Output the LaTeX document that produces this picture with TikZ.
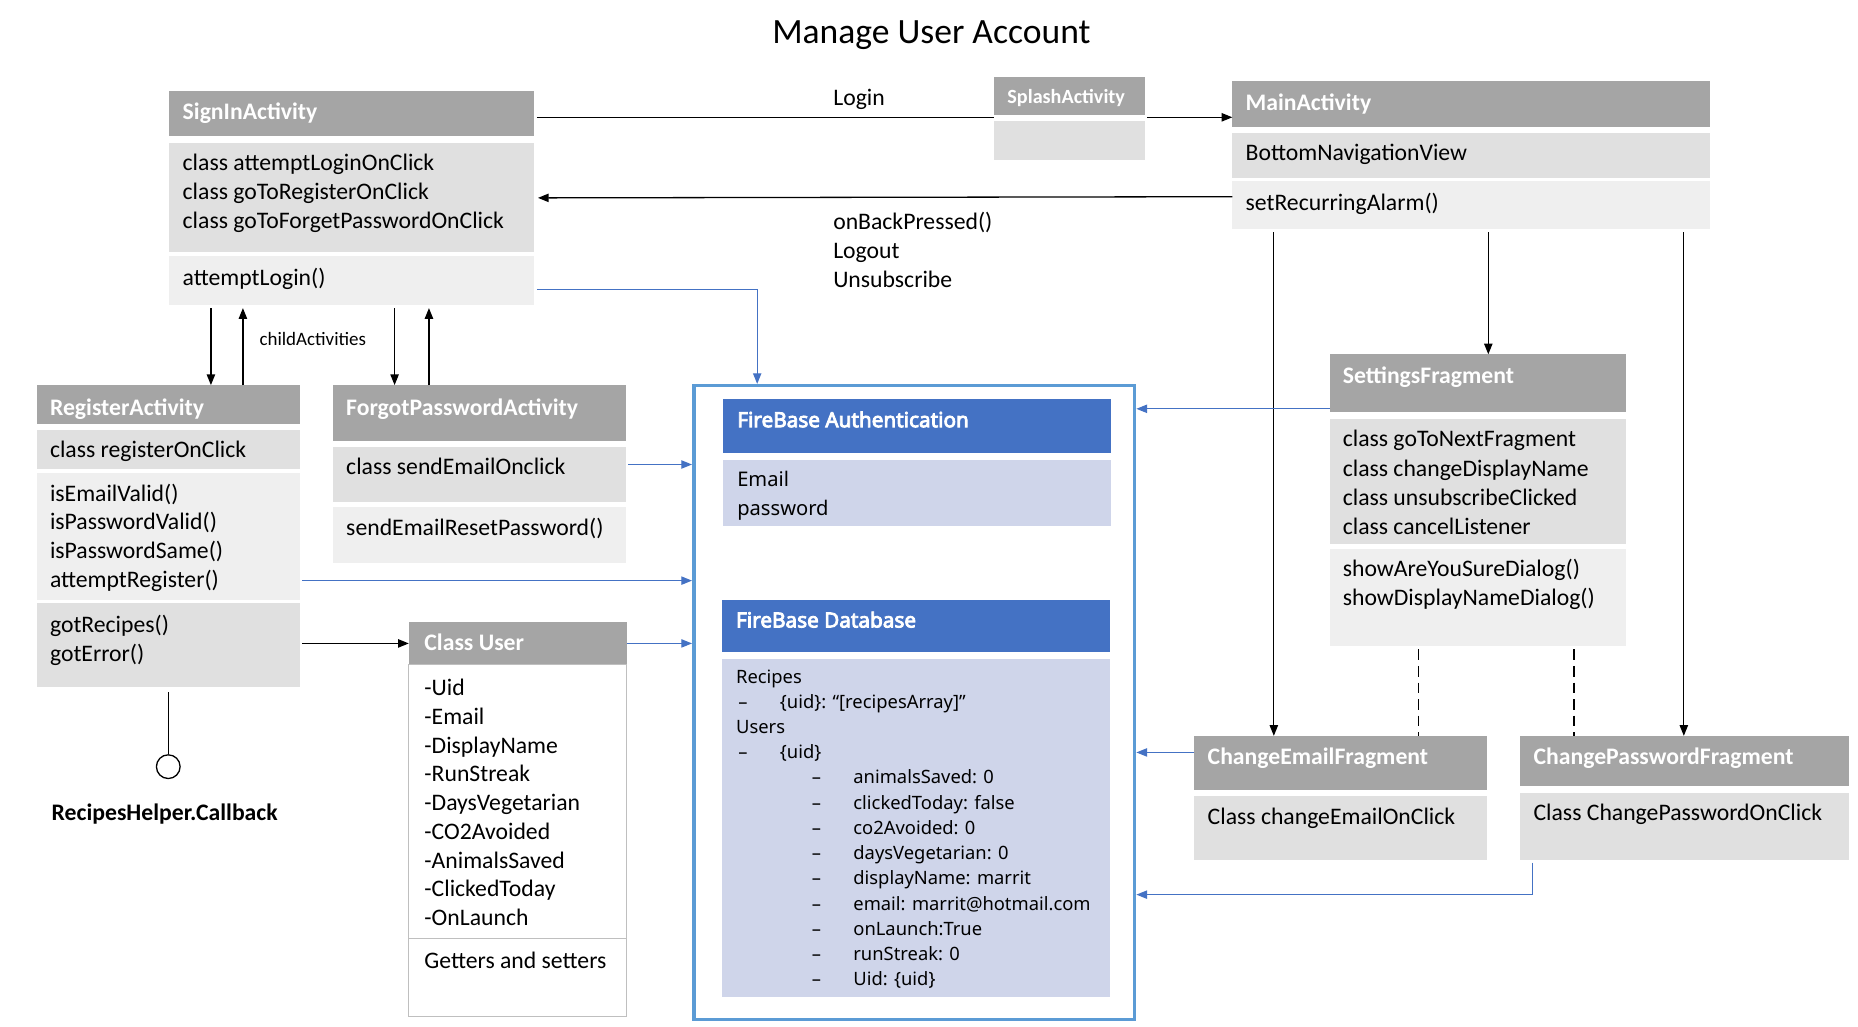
\documentclass[tikz,border=0pt]{standalone}
\usepackage{fontspec}
\setmainfont{Carlito}
\newfontfamily\fbfont{Noto Sans}
\newfontfamily\fbbold{Noto Sans}[FakeBold=4]
\usetikzlibrary{arrows.meta}

\definecolor{hgray}{HTML}{A5A5A5}
\definecolor{lgray}{HTML}{E0E0E0}
\definecolor{pgray}{HTML}{EFEFEF}
\definecolor{ugray}{HTML}{BFBFBF}
\definecolor{fbblue}{HTML}{4472C4}
\definecolor{fbpale}{HTML}{CFD5EA}
\definecolor{fbframe}{HTML}{5B9BD5}

\begin{document}
\begin{tikzpicture}[x=1pt,y=-1pt,
    box/.style={anchor=north west,inner sep=0pt,outer sep=0pt},
    txt/.style={anchor=north west,inner sep=0pt,align=left,font=\fontsize{20}{24.4}\selectfont},
    head/.style={txt,text=white,font=\fontsize{20}{24.4}\selectfont\bfseries},
    fbhead/.style={txt,text=white,font=\fbbold\fontsize{17.5}{20}\selectfont},
    dbt/.style={txt,font=\fbfont\fontsize{15.5}{18}\selectfont,text height=11.5pt,text depth=3.5pt},
    line/.style={line width=1.1pt},
    arr/.style={line,-{Triangle[length=9pt,width=7pt]}},
    barr/.style={arr,draw=fbblue,line width=1pt}]
  \useasboundingbox (0,0) rectangle (1568,866.7);
  \node[font=\fontsize{30}{36}\selectfont] (title) at (786,30) {Manage User Account};

  % SignInActivity
  \node[box,fill=hgray,minimum width=308,minimum height=38] (sinh) at (143,77) {};
  \node[box,fill=lgray,minimum width=308,minimum height=92] (sin2) at (143,121) {};
  \node[box,fill=pgray,minimum width=308,minimum height=41] (sin3) at (143,216) {};
  \node[head] (sinht) at (154,87) {SignInActivity};
  \node[txt] (sin2t) at (154,130) {class attemptLoginOnClick\\class goToRegisterOnClick\\class goToForgetPasswordOnClick};
  \node[txt] (sin3t) at (154,226) {attemptLogin()};

  % SplashActivity
  \node[box,fill=hgray,minimum width=127,minimum height=32] (sph) at (839,65) {};
  \node[box,fill=lgray,minimum width=127,minimum height=33] (spb) at (839,102) {};
  \node[head,font=\fontsize{17}{20}\selectfont\bfseries] (spht) at (850,75) {SplashActivity};

  % MainActivity
  \node[box,fill=hgray,minimum width=403,minimum height=39] (mah) at (1040,68) {};
  \node[box,fill=lgray,minimum width=403,minimum height=38] (ma2) at (1040,112) {};
  \node[box,fill=pgray,minimum width=403,minimum height=40] (ma3) at (1040,153) {};
  \node[head] (maht) at (1051,79) {MainActivity};
  \node[txt] (ma2t) at (1051,121) {BottomNavigationView};
  \node[txt] (ma3t) at (1051,163) {setRecurringAlarm()};

  % RegisterActivity
  \node[box,fill=hgray,minimum width=222,minimum height=33] (reh) at (31,325) {};
  \node[box,fill=lgray,minimum width=222,minimum height=33] (re2) at (31,363) {};
  \node[box,fill=pgray,minimum width=222,minimum height=107] (re3) at (31,399) {};
  \node[box,fill=lgray,minimum width=222,minimum height=71] (re4) at (31,509) {};
  \node[head] (reht) at (42,336) {RegisterActivity};
  \node[txt] (re2t) at (42,372) {class registerOnClick};
  \node[txt] (re3t) at (42,408) {isEmailValid()\\isPasswordValid()\\isPasswordSame()\\attemptRegister()};
  \node[txt] (re4t) at (42,519) {gotRecipes()\\gotError()};
  \node[circle,draw,line width=1.1pt,minimum size=20pt,inner sep=0pt] (cb) at (142,647) {};
  \node[font=\fontsize{20}{24}\selectfont\bfseries] (cbt) at (139,687) {RecipesHelper.Callback};

  % ForgotPasswordActivity
  \node[box,fill=hgray,minimum width=247,minimum height=47] (foh) at (281,325) {};
  \node[box,fill=lgray,minimum width=247,minimum height=47] (fo2) at (281,377) {};
  \node[box,fill=pgray,minimum width=247,minimum height=47] (fo3) at (281,428) {};
  \node[head] (foht) at (292,336) {ForgotPasswordActivity};
  \node[txt] (fo2t) at (292,386) {class sendEmailOnclick};
  \node[txt] (fo3t) at (292,437) {sendEmailResetPassword()};

  % Class User
  \node[box,fill=hgray,minimum width=184,minimum height=36] (ush) at (345,525) {};
  \node[box,draw=ugray,line width=1pt,minimum width=184,minimum height=231] (usb) at (345,561) {};
  \node[box,draw=ugray,line width=1pt,minimum width=184,minimum height=66] (usm) at (345,792) {};
  \node[head] (usht) at (358,535) {Class User};
  \node[txt,font=\fontsize{20}{24.25}\selectfont] (usbt) at (358,573) {-Uid\\-Email\\-DisplayName\\-RunStreak\\-DaysVegetarian\\-CO2Avoided\\-AnimalsSaved\\-ClickedToday\\-OnLaunch};
  \node[txt] (usmt) at (358,803) {Getters and setters};

  % FireBase
  \node[box,draw=fbframe,line width=3pt,outer sep=1.5pt,minimum width=372,minimum height=535] (fb) at (584,324) {};
  \node[box,fill=fbblue,minimum width=328,minimum height=45] (fah) at (610,337) {};
  \node[box,fill=fbpale,minimum width=328,minimum height=56] (fab) at (610,388) {};
  \node[box,fill=fbblue,minimum width=328,minimum height=44] (fdh) at (609,506) {};
  \node[box,fill=fbpale,minimum width=328,minimum height=285] (fdb) at (609,556) {};
  \node[fbhead] (faht) at (622,347) {FireBase Authentication};
  \node[txt,font=\fbfont\fontsize{17}{24}\selectfont] (fabt) at (622,397.5) {Email\\password};
  \node[fbhead] (fdht) at (621,516) {FireBase Database};
  \node[dbt] (rec) at (621,565.5) {Recipes};
  \node[dbt] (rd) at (623,586.5) {–};
  \node[dbt] (ruid) at (658,586.5) {\{uid\}: “[recipesArray]”};
  \node[dbt] (users) at (621,607.5) {Users};
  \node[dbt] (ud) at (623,628.5) {–};
  \node[dbt] (uuid) at (658,628.5) {\{uid\}};
  \foreach \t [count=\i] in {animalsSaved: 0, clickedToday: false, co2Avoided: 0, daysVegetarian: 0, displayName: marrit, email: marrit@hotmail.com, onLaunch:True, runStreak: 0, Uid: \{uid\}} {
    \node[dbt] (fd\i) at (685,628.5+21.3*\i) {–};
    \node[dbt] (ft\i) at (720,628.5+21.3*\i) {\t};
  }

  % SettingsFragment
  \node[box,fill=hgray,minimum width=250,minimum height=49] (seh) at (1122,299) {};
  \node[box,fill=lgray,minimum width=250,minimum height=105] (se2) at (1122,354) {};
  \node[box,fill=pgray,minimum width=250,minimum height=82] (se3) at (1122,463) {};
  \node[head] (seht) at (1133,309) {SettingsFragment};
  \node[txt,font=\fontsize{20}{24.67}\selectfont] (se2t) at (1133,363) {class goToNextFragment\\class changeDisplayName\\class unsubscribeClicked\\class cancelListener};
  \node[txt] (se3t) at (1133,472) {showAreYouSureDialog()\\showDisplayNameDialog()};

  % ChangeEmailFragment, ChangePasswordFragment
  \node[box,fill=hgray,minimum width=247,minimum height=46] (ceh) at (1008,621) {};
  \node[box,fill=lgray,minimum width=247,minimum height=54] (ceb) at (1008,672) {};
  \node[head] (ceht) at (1019,631) {ChangeEmailFragment};
  \node[txt] (cebt) at (1019,682) {Class changeEmailOnClick};
  \node[box,fill=hgray,minimum width=277,minimum height=42] (cph) at (1283,621) {};
  \node[box,fill=lgray,minimum width=277,minimum height=57] (cpb) at (1283,669) {};
  \node[head] (cpht) at (1294,631) {ChangePasswordFragment};
  \node[txt] (cpbt) at (1294,678) {Class ChangePasswordOnClick};

  % connectors
  \draw[line,shorten <=2pt] (sinh.east |- 0,99) -- (sph.west |- 0,99);
  \draw[arr,shorten <=2pt] (sph.east |- 0,99) -- (mah.west |- 0,99);
  \node[font=\fontsize{20}{24}\selectfont] (login) at (725,84) {Login};
  \draw[arr,shorten >=3pt] (ma3.west |- 0,166) -- (sin2.east |- 0,167);
  \node[txt] (back) at (703,179) {onBackPressed()\\Logout\\Unsubscribe};
  \draw[arr,shorten <=3pt] (178,0 |- sin3.south) -- (178,0 |- reh.north);
  \draw[arr,shorten >=3pt] (205,0 |- reh.north) -- (205,0 |- sin3.south);
  \draw[arr,shorten <=3pt] (333,0 |- sin3.south) -- (333,0 |- foh.north);
  \draw[arr,shorten >=3pt] (362,0 |- foh.north) -- (362,0 |- sin3.south);
  \node[font=\fontsize{16}{19}\selectfont] (child) at (264,286) {childActivities};
  \draw[line,shorten <=4pt] (re4.south) -- (cb.north);
  \draw[arr,shorten <=2pt] (re4.east |- ush.west) -- (ush.west);
  \draw[barr,shorten <=2pt] (sin3.east |- 0,244) -| (639,0 |- fb.north);
  \draw[barr,shorten <=2pt] (fo2.east |- 0,392) -- (fb.west |- 0,392);
  \draw[barr,shorten <=2pt] (re3.east |- 0,490) -- (fb.west |- 0,490);
  \draw[barr] (ush.east) -- (fb.west |- ush.east);
  \draw[arr,shorten <=3pt] (1256,0 |- ma3.south) -- (1256,0 |- seh.north);
  \draw[arr,shorten <=3pt] (1075,0 |- ma3.south) -- (1075,0 |- ceh.north);
  \draw[arr,shorten <=3pt] (1421,0 |- ma3.south) -- (1421,0 |- cph.north);
  \draw[barr] (seh.west |- 0,345) -- (fb.east |- 0,345);
  \draw[barr] (ceh.west |- 0,635) -- (fb.east |- 0,635);
  \draw[barr,shorten <=2pt] (1293,0 |- cpb.south) |- (fb.east |- 0,755);
  \draw[line width=1.5pt,dash pattern=on 9pt off 5pt,shorten <=3pt] (1197,0 |- se3.south) -- (1197,0 |- ceh.north);
  \draw[line width=1.5pt,dash pattern=on 9pt off 5pt,shorten <=3pt] (1328,0 |- se3.south) -- (1328,0 |- cph.north);
\end{tikzpicture}
\end{document}
